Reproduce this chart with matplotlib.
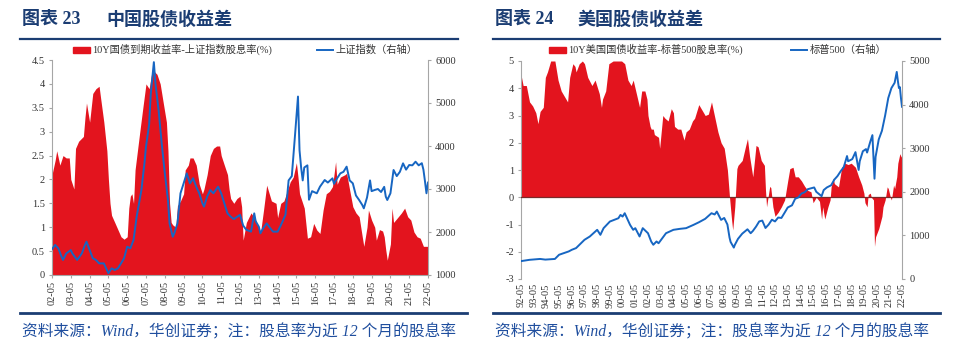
import matplotlib
matplotlib.use('Agg')
import matplotlib.pyplot as plt
from matplotlib.patches import Rectangle
from matplotlib.lines import Line2D
import pandas as pd

plt.rcParams['font.family'] = ['Liberation Serif', 'Noto Sans CJK SC']

# ---------------- China panel data ----------------
cn_spread_dates = [
    '2002-05', '2002-07', '2002-08', '2002-10', '2002-12', '2003-02', '2003-04', '2003-05', '2003-06', '2003-07',
    '2003-08', '2003-10', '2004-01', '2004-02', '2004-03', '2004-05', '2004-07', '2004-09', '2004-11', '2004-12',
    '2005-02', '2005-04', '2005-05', '2005-06', '2005-07', '2005-09', '2005-11', '2006-01', '2006-03', '2006-05',
    '2006-06', '2006-07', '2006-08', '2006-09', '2006-10', '2007-01', '2007-03', '2007-05', '2007-07', '2007-09',
    '2007-12', '2008-02', '2008-04', '2008-06', '2008-07', '2008-08', '2008-09', '2008-10', '2008-12', '2009-01',
    '2009-03', '2009-05', '2009-06', '2009-08', '2009-09', '2009-11', '2010-01', '2010-03', '2010-05', '2010-06',
    '2010-08', '2010-10', '2010-12', '2011-02', '2011-04', '2011-05', '2011-07', '2011-09', '2011-10', '2011-11',
    '2012-01', '2012-03', '2012-05', '2012-06', '2012-07', '2012-09', '2012-12', '2013-03', '2013-06', '2013-08',
    '2013-10', '2014-01', '2014-04', '2014-05', '2014-07', '2014-09', '2014-11', '2015-01', '2015-03', '2015-05',
    '2015-06', '2015-07', '2015-09', '2015-10', '2015-12', '2016-02', '2016-04', '2016-06', '2016-08', '2016-10',
    '2016-12', '2017-02', '2017-04', '2017-06', '2017-07', '2017-09', '2017-12', '2018-01', '2018-03', '2018-05',
    '2018-07', '2018-09', '2018-11', '2018-12', '2019-02', '2019-03', '2019-05', '2019-07', '2019-08', '2019-10',
    '2019-12', '2020-01', '2020-02', '2020-03', '2020-05', '2020-06', '2020-07', '2020-10', '2020-12', '2021-02',
    '2021-04', '2021-06', '2021-08', '2021-10', '2021-12', '2022-02', '2022-05']
cn_spread = [
    2.1, 2.4, 2.6, 2.3, 2.5, 2.45, 2.45, 2.0, 1.9, 1.8,
    2.65, 2.8, 2.9, 3.3, 3.6, 3.2, 3.8, 3.9, 3.95, 3.7,
    3.2, 2.6, 2.0, 1.5, 1.25, 1.1, 0.95, 0.8, 0.75, 0.8,
    1.4, 1.65, 1.7, 1.5, 2.2, 3.0, 3.5, 4.0, 3.9, 4.3,
    4.2, 4.0, 3.6, 3.2, 2.6, 1.5, 1.1, 1.05, 1.0, 1.45,
    1.55, 1.7, 2.2, 2.3, 2.45, 2.45, 2.3, 1.9, 1.7, 1.8,
    2.1, 2.5, 2.65, 2.7, 2.7, 2.5, 2.3, 2.1, 1.8, 1.6,
    1.5, 1.6, 1.65, 1.43, 0.73, 1.1, 1.3, 1.15, 0.87, 1.36,
    1.88, 1.55, 1.5, 1.2, 1.5, 1.55, 1.75, 1.95, 2.05, 2.35,
    2.05, 1.7, 1.5, 1.4, 0.77, 0.8, 1.08, 0.94, 0.87, 1.36,
    1.7, 1.75, 1.85, 2.37, 1.9, 2.05, 2.1, 2.13, 1.78, 1.43,
    1.3, 1.22, 0.8, 0.6, 1.0, 1.36, 1.15, 1.0, 0.73, 0.95,
    0.92, 0.8, 0.52, 0.31, 0.65, 1.4, 1.1, 1.22, 1.3, 1.4,
    1.22, 1.15, 0.9, 0.8, 0.77, 0.6, 0.6]

cn_index_dates = [
    '2002-05', '2002-07', '2002-09', '2002-11', '2002-12', '2003-02', '2003-05', '2003-06', '2003-09', '2003-12',
    '2004-02', '2004-03', '2004-05', '2004-07', '2004-09', '2004-11', '2005-02', '2005-05', '2005-07', '2005-09',
    '2005-11', '2006-01', '2006-03', '2006-05', '2006-07', '2006-09', '2006-11', '2007-02', '2007-04', '2007-05',
    '2007-07', '2007-08', '2007-10', '2007-11', '2008-01', '2008-03', '2008-05', '2008-07', '2008-08', '2008-10',
    '2008-11', '2009-01', '2009-03', '2009-05', '2009-07', '2009-09', '2009-11', '2010-01', '2010-03', '2010-05',
    '2010-06', '2010-08', '2010-10', '2010-12', '2011-03', '2011-05', '2011-07', '2011-09', '2011-11', '2012-01',
    '2012-05', '2012-07', '2012-09', '2012-12', '2013-02', '2013-03', '2013-05', '2013-06', '2013-08', '2013-10',
    '2013-12', '2014-02', '2014-05', '2014-07', '2014-10', '2014-12', '2015-02', '2015-04', '2015-06', '2015-07',
    '2015-08', '2015-09', '2015-10', '2015-12', '2016-01', '2016-03', '2016-06', '2016-08', '2016-11', '2017-01',
    '2017-04', '2017-05', '2017-07', '2017-09', '2017-11', '2018-01', '2018-03', '2018-05', '2018-07', '2018-09',
    '2018-11', '2018-12', '2019-02', '2019-04', '2019-05', '2019-07', '2019-09', '2019-11', '2020-01', '2020-02',
    '2020-03', '2020-05', '2020-07', '2020-09', '2020-11', '2021-01', '2021-03', '2021-05', '2021-07', '2021-09',
    '2021-11', '2022-01', '2022-02', '2022-03', '2022-04', '2022-05']
cn_index = [
    1600, 1700, 1620, 1430, 1350, 1500, 1580, 1500, 1350, 1500,
    1700, 1775, 1580, 1390, 1350, 1270, 1270, 1040, 1155, 1116,
    1155, 1270, 1390, 1660, 1620, 1815, 2357, 2976, 3600, 3985,
    4500, 5200, 5950, 5450, 4837, 4062, 3364, 2744, 2200, 1890,
    1970, 2200, 2900, 3130, 3364, 3130, 3250, 3054, 2900, 2667,
    2590, 2822, 2976, 2900, 3054, 2900, 2667, 2434, 2357, 2300,
    2400, 2150, 2050, 2008, 2434, 2250, 2124, 1969, 2100, 2200,
    2100, 2008, 2008, 2150, 2400, 3200, 3300, 4200, 5150, 3900,
    3500, 3200, 3500, 3550, 2750, 2950, 2900, 3054, 3209, 3150,
    3248, 3120, 3250, 3364, 3400, 3520, 3200, 3132, 2850, 2744,
    2628, 2550, 2800, 3200, 2950, 2977, 3000, 2930, 3050, 2822,
    2744, 2900, 3442, 3300, 3400, 3597, 3450, 3558, 3550, 3635,
    3550, 3600, 3450, 3200, 2900, 3150]

cn_xticklabels = ['02-05', '03-05', '04-05', '05-05', '06-05', '07-05', '08-05', '09-05', '10-05', '11-05',
                  '12-05', '13-05', '14-05', '15-05', '16-05', '17-05', '18-05', '19-05', '20-05', '21-05', '22-05']
cn_yticks_left = [0, 0.5, 1, 1.5, 2, 2.5, 3, 3.5, 4, 4.5]
cn_yticklabels_left = ['0', '0.5', '1', '1.5', '2', '2.5', '3', '3.5', '4', '4.5']
cn_yticks_right = [1000, 2000, 3000, 4000, 5000, 6000]

# ---------------- US panel data ----------------
us_spread_dates = [
    '1992-05', '1992-07', '1992-10', '1993-01', '1993-04', '1993-07', '1993-09', '1993-11', '1994-02', '1994-04',
    '1994-06', '1994-09', '1995-01', '1995-04', '1995-07', '1995-10', '1996-01', '1996-03', '1996-06', '1996-08',
    '1996-09', '1996-12', '1997-03', '1997-05', '1997-08', '1997-12', '1998-03', '1998-05', '1998-07', '1998-09',
    '1998-10', '1999-01', '1999-04', '1999-08', '2000-04', '2000-07', '2000-10', '2001-01', '2001-03', '2001-06',
    '2001-09', '2001-11', '2002-02', '2002-04', '2002-05', '2002-07', '2002-08', '2002-10', '2002-11', '2003-03',
    '2003-04', '2003-07', '2003-09', '2003-12', '2004-03', '2004-05', '2004-06', '2004-09', '2004-12', '2005-03',
    '2005-05', '2005-08', '2005-11', '2006-01', '2006-05', '2006-08', '2006-11', '2007-02', '2007-05', '2007-08',
    '2007-11', '2008-02', '2008-05', '2008-08', '2008-10', '2008-12', '2009-01', '2009-03', '2009-05', '2009-06',
    '2009-10', '2010-01', '2010-03', '2010-05', '2010-08', '2010-11', '2011-01', '2011-04', '2011-07', '2011-08',
    '2011-09', '2011-10', '2011-12', '2012-01', '2012-03', '2012-05', '2012-08', '2012-11', '2013-02', '2013-05',
    '2013-07', '2013-10', '2013-12', '2014-03', '2014-06', '2014-09', '2014-12', '2015-03', '2015-05', '2015-08',
    '2015-11', '2016-01', '2016-02', '2016-04', '2016-07', '2016-09', '2016-10', '2016-12', '2017-01', '2017-05',
    '2017-08', '2017-11', '2018-02', '2018-05', '2018-09', '2018-12', '2019-03', '2019-05', '2019-06', '2019-08',
    '2019-09', '2019-11', '2019-12', '2020-02', '2020-03', '2020-04', '2020-07', '2020-10', '2020-11', '2021-01',
    '2021-03', '2021-04', '2021-06', '2021-07', '2021-09', '2021-10', '2021-12', '2022-01', '2022-03', '2022-04',
    '2022-05']
us_spread = [
    4.5, 4.1, 4.1, 3.5, 3.35, 3.1, 2.7, 3.15, 3.3, 4.4,
    4.6, 5.0, 5.0, 4.3, 3.9, 3.7, 3.5, 4.4, 4.9, 4.8,
    4.6, 4.9, 5.0, 4.9, 4.4, 4.1, 4.3, 4.05, 3.8, 3.3,
    3.6, 3.9, 4.9, 5.0, 5.0, 4.9, 4.3, 4.1, 4.3, 3.8,
    3.3, 3.9, 3.9, 3.6, 3.0, 2.6, 2.5, 2.5, 2.3, 2.2,
    1.8, 3.0, 2.9, 2.8, 3.25, 3.1, 2.6, 2.5, 2.5, 2.1,
    2.4, 2.5, 2.8, 2.9, 3.4, 3.2, 3.0, 3.05, 3.5, 2.95,
    2.4, 2.0, 1.8, 1.0, 0.0, -0.85, -1.2, -0.35, 1.05, 1.17,
    1.35, 1.85, 2.15, 1.5, 0.75, 1.9, 1.85, 1.35, 1.17, 0.27,
    -0.35, -0.1, 0.4, 0.35, -0.35, -0.7, -0.55, -0.35, -0.1, 0.6,
    1.05, 1.1, 0.75, 0.75, 0.6, 0.4, 0.25, 0.2, -0.2, 0.0,
    -0.15, -0.8, -0.35, -0.8, -0.35, -0.1, 0.38, 0.7, 0.5, 0.38,
    1.1, 1.25, 1.2, 1.25, 1.1, 0.75, 0.45, 0.15, -0.2, -0.35,
    0.1, 0.15, 0.0, -0.1, -1.8, -1.45, -1.15, -0.7, -0.35, -0.1,
    0.38, 0.32, 0.0, -0.1, 0.45, 0.32, 0.75, 1.25, 1.6, 1.5,
    1.45]

us_index_dates = [
    '1992-05', '1993-01', '1993-11', '1994-04', '1995-01', '1995-05', '1996-02', '1996-05', '1996-09', '1997-05',
    '1997-10', '1998-05', '1998-08', '1998-11', '1999-05', '2000-01', '2000-03', '2000-05', '2000-07', '2000-12',
    '2001-03', '2001-05', '2001-09', '2001-12', '2002-05', '2002-08', '2002-10', '2003-01', '2003-03', '2003-10',
    '2004-05', '2004-11', '2005-05', '2005-12', '2006-05', '2006-11', '2007-05', '2007-08', '2007-10', '2008-02',
    '2008-05', '2008-08', '2008-10', '2008-11', '2009-02', '2009-03', '2009-06', '2009-10', '2010-03', '2010-06',
    '2010-08', '2010-11', '2011-02', '2011-05', '2011-08', '2011-11', '2012-02', '2012-05', '2012-08', '2012-11',
    '2013-02', '2013-05', '2013-09', '2013-12', '2014-03', '2014-06', '2014-09', '2014-12', '2015-03', '2015-06',
    '2015-08', '2016-01', '2016-03', '2016-06', '2016-10', '2017-01', '2017-04', '2017-07', '2017-10', '2018-01',
    '2018-02', '2018-06', '2018-09', '2018-12', '2019-01', '2019-04', '2019-07', '2019-08', '2019-11', '2020-01',
    '2020-03', '2020-04', '2020-07', '2020-10', '2021-01', '2021-04', '2021-07', '2021-10', '2021-12', '2022-01',
    '2022-02', '2022-03', '2022-04', '2022-05']
us_index = [
    410, 440, 460, 445, 460, 556, 632, 670, 709, 899,
    975, 1128, 1013, 1166, 1318, 1394, 1470, 1432, 1509, 1242,
    1128, 1166, 975, 1166, 1050, 860, 785, 861, 820, 1050,
    1128, 1150, 1166, 1242, 1300, 1380, 1509, 1480, 1547, 1356,
    1400, 1250, 950, 850, 720, 780, 920, 1040, 1140, 1050,
    1100, 1200, 1320, 1340, 1170, 1250, 1360, 1320, 1410, 1400,
    1520, 1640, 1690, 1840, 1870, 1960, 1990, 2060, 2080, 2100,
    2000, 1900, 2040, 2100, 2150, 2280, 2360, 2470, 2570, 2820,
    2700, 2750, 2910, 2500, 2700, 2930, 2980, 2900, 3150, 3300,
    2300, 2800, 3200, 3400, 3750, 4150, 4380, 4500, 4750, 4550,
    4380, 4400, 4150, 3950]

us_xticklabels = ['92-05', '93-05', '94-05', '95-05', '96-05', '97-05', '98-05', '99-05', '00-05', '01-05',
                  '02-05', '03-05', '04-05', '05-05', '06-05', '07-05', '08-05', '09-05', '10-05', '11-05',
                  '12-05', '13-05', '14-05', '15-05', '16-05', '17-05', '18-05', '19-05', '20-05', '21-05', '22-05']
us_yticks_left = [-3, -2, -1, 0, 1, 2, 3, 4, 5]
us_yticks_right = [0, 1000, 2000, 3000, 4000, 5000]

# ---------------- styling ----------------
RED = '#E3141E'
BLUE = '#1766C2'
NAVY = '#1B3D73'
GRAY = '#A6A6A6'
TXT = '#333333'
SRC = '#1F4E9E'

W, H = 955, 354
fig = plt.figure(figsize=(W / 100, H / 100), dpi=100)


def fig_x(px):
    return px / W


def fig_y(py):
    return 1 - py / H


def style_axes(ax, ax2):
    for s in ['top', 'right']:
        ax.spines[s].set_visible(False)
    for s in ['top', 'left', 'bottom']:
        ax2.spines[s].set_visible(False)
    ax.spines['left'].set_color(GRAY)
    ax.spines['bottom'].set_color(GRAY)
    ax2.spines['right'].set_color(GRAY)
    for a in (ax, ax2):
        a.tick_params(axis='y', direction='out', length=2.2, color=GRAY, labelsize=7.5,
                      labelcolor=TXT, pad=3)
    ax.tick_params(axis='x', direction='out', length=2, color=GRAY, labelsize=7.5,
                   labelcolor=TXT, labelrotation=90, pad=2)


def year_ticks(labels):
    return [pd.Timestamp(('19' if int(l[:2]) > 50 else '20') + l[:2] + '-05-01') for l in labels]


# ---------------- China panel ----------------
ax1 = fig.add_axes([fig_x(52), fig_y(275), 376 / W, 215 / H])
x_cs = pd.to_datetime(cn_spread_dates)
ax1.fill_between(x_cs, 0, cn_spread, color=RED, linewidth=0)
ax1.set_ylim(0, 4.5)
ax1.set_yticks(cn_yticks_left, cn_yticklabels_left)
cn_ticks = year_ticks(cn_xticklabels)
ax1.set_xlim(cn_ticks[0], cn_ticks[-1])
ax1.set_xticks(cn_ticks, cn_xticklabels)
ax2 = ax1.twinx()
ax2.plot(pd.to_datetime(cn_index_dates), cn_index, color=BLUE, lw=1.4)
ax2.set_ylim(1000, 6000)
ax2.set_yticks(cn_yticks_right, [str(v) for v in cn_yticks_right])
style_axes(ax1, ax2)

# ---------------- US panel ----------------
ax3 = fig.add_axes([fig_x(521), fig_y(279), 381 / W, 218 / H])
x_us = pd.to_datetime(us_spread_dates)
ax3.fill_between(x_us, 0, us_spread, color=RED, linewidth=0)
ax3.set_ylim(-3, 5)
ax3.set_yticks(us_yticks_left, [str(v) for v in us_yticks_left])
us_ticks = year_ticks(us_xticklabels)
ax3.set_xlim(us_ticks[0], us_ticks[-1])
ax3.set_xticks(us_ticks, us_xticklabels)
ax3.axhline(0, color='#7A2A2A', lw=0.9, zorder=3)
ax4 = ax3.twinx()
ax4.plot(pd.to_datetime(us_index_dates), us_index, color=BLUE, lw=1.4)
ax4.set_ylim(0, 5000)
ax4.set_yticks(us_yticks_right, [str(v) for v in us_yticks_right])
style_axes(ax3, ax4)
ax3.spines['bottom'].set_visible(False)
ax3.tick_params(axis='x', length=0, pad=3)

# ---------------- titles, rules, legends, sources ----------------
title_kw = dict(fontsize=13, fontweight='bold', color=NAVY, va='center')
fig.text(fig_x(22), fig_y(20), '图表 23', **title_kw)
fig.text(fig_x(106), fig_y(20), '中国股债收益差', **title_kw)
fig.text(fig_x(495), fig_y(20), '图表 24', **title_kw)
fig.text(fig_x(577), fig_y(20), '美国股债收益差', **title_kw)

for (xa, xb) in [(20, 458), (493, 940)]:
    fig.add_artist(Line2D([fig_x(xa), fig_x(xb)], [fig_y(39)] * 2, color=NAVY, lw=1.6,
                          transform=fig.transFigure))
for (xa, xb) in [(20, 467), (493, 940)]:
    fig.add_artist(Line2D([fig_x(xa), fig_x(xb)], [fig_y(313)] * 2, color=NAVY, lw=2.0,
                          transform=fig.transFigure))

leg_kw = dict(fontsize=7.4, color=TXT, va='center')
legends = [
    (73, 92, '10Y国债到期收益率-上证指数股息率(%)', 317, 335, '上证指数（右轴）'),
    (549, 568, '10Y美国国债收益率-标普500股息率(%)', 791, 810, '标普500（右轴）'),
]
for rx, tx, rlabel, lx, ltx, llabel in legends:
    fig.add_artist(Rectangle((fig_x(rx), fig_y(52.5)), 17 / W, 6 / H, color=RED,
                             transform=fig.transFigure))
    fig.text(fig_x(tx), fig_y(49.5), rlabel, **leg_kw)
    fig.add_artist(Line2D([fig_x(lx), fig_x(lx + 16)], [fig_y(49.5)] * 2, color=BLUE, lw=1.4,
                          transform=fig.transFigure))
    fig.text(fig_x(ltx), fig_y(49.5), llabel, **leg_kw)

src = '资料来源：Wind，华创证券；注：股息率为近 12 个月的股息率'
fig.text(fig_x(22), fig_y(332), src, fontsize=11.3, style='italic', color=SRC, va='center')
fig.text(fig_x(495), fig_y(332), src, fontsize=11.3, style='italic', color=SRC, va='center')

fig.savefig('out.png', dpi=100)
